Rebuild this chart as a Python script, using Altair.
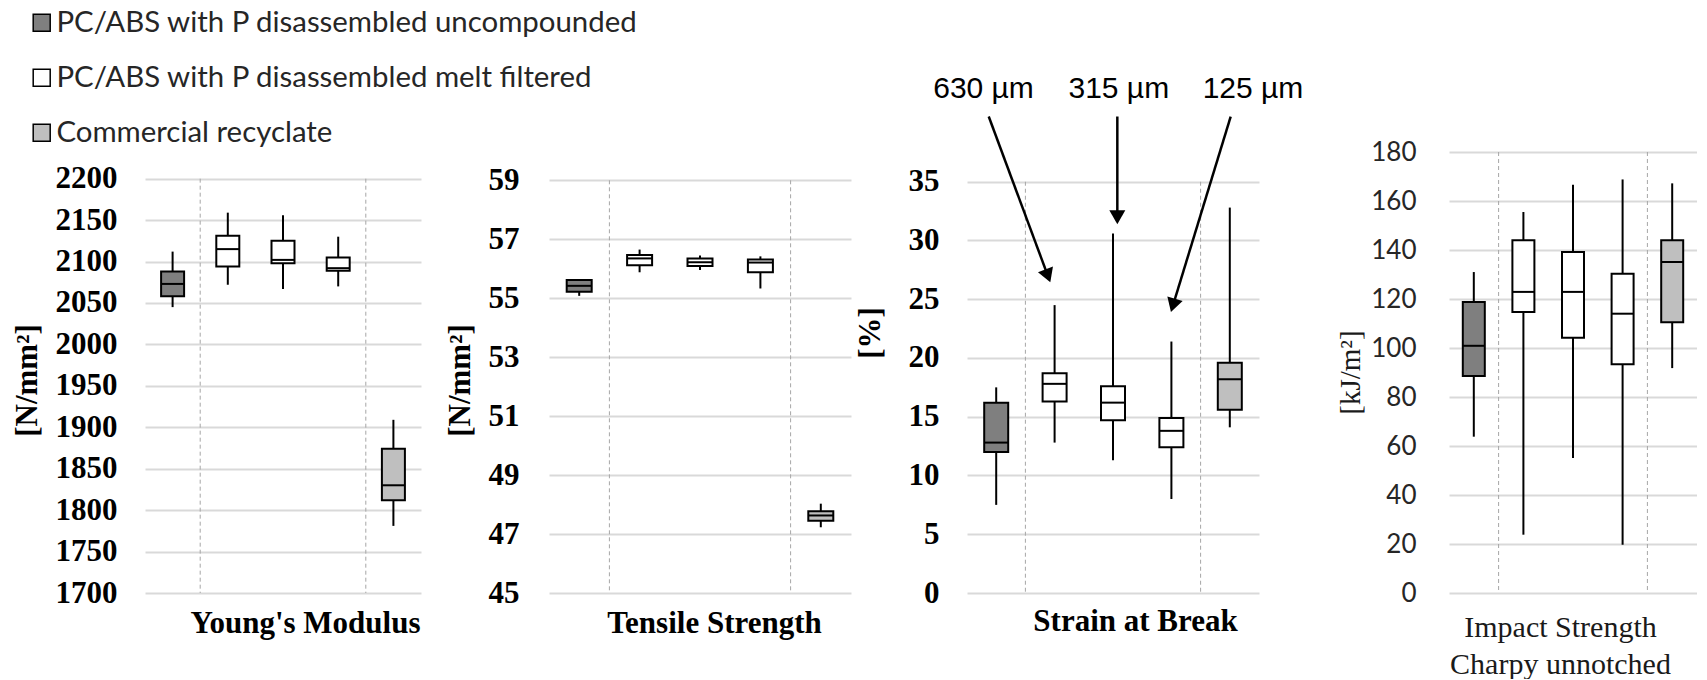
import altair as alt
import pandas as pd

# ---------------- data ----------------
groups = ["PC/ABS with P disassembled uncompounded",
          "PC/ABS with P disassembled melt filtered",
          "Commercial recyclate"]
group_colors = ["#7f7f7f", "#ffffff", "#bfbfbf"]
box_names = ["uncompounded", "630 µm", "315 µm", "125 µm", "recyclate"]
box_groups = [groups[0], groups[1], groups[1], groups[1], groups[2]]

# Young's modulus [N/mm²]
ym_min = [2045, 2072, 2067, 2070, 1781]
ym_q1 = [2058, 2094, 2098, 2089, 1812]
ym_med = [2073, 2115, 2102, 2092, 1830]
ym_q3 = [2088, 2131, 2125, 2105, 1874]
ym_max = [2112, 2159, 2156, 2130, 1909]
ym_ticks = [1700, 1750, 1800, 1850, 1900, 1950, 2000, 2050, 2100, 2150, 2200]

# Tensile strength [N/mm²]
ts_min = [55.08, 55.88, 55.96, 55.33, 47.23]
ts_q1 = [55.22, 56.12, 56.09, 55.88, 47.45]
ts_med = [55.42, 56.35, 56.22, 56.21, 47.63]
ts_q3 = [55.62, 56.47, 56.35, 56.31, 47.77]
ts_max = [55.65, 56.65, 56.45, 56.42, 48.03]
ts_ticks = [45, 47, 49, 51, 53, 55, 57, 59]

# Strain at break [%]
sb_min = [7.5, 12.8, 11.3, 8.0, 14.1]
sb_q1 = [12.0, 16.3, 14.7, 12.4, 15.6]
sb_med = [12.8, 17.8, 16.2, 13.8, 18.2]
sb_q3 = [16.2, 18.7, 17.6, 14.9, 19.6]
sb_max = [17.5, 24.5, 30.6, 21.4, 32.8]
sb_ticks = [0, 5, 10, 15, 20, 25, 30, 35]

# Impact strength Charpy unnotched [kJ/m²]
is_min = [63.8, 23.8, 55.1, 19.7, 91.8]
is_q1 = [88.6, 114.7, 104.2, 93.4, 110.5]
is_med = [100.9, 122.9, 122.9, 114.0, 135.1]
is_q3 = [118.8, 144.0, 139.2, 130.3, 144.0]
is_max = [131.0, 155.5, 166.6, 168.8, 167.2]
is_ticks = [0, 20, 40, 60, 80, 100, 120, 140, 160, 180]

# annotations in the strain panel (x in box-slot units, y in %)
ann_labels = ["630 µm", "315 µm", "125 µm"]
ann_text_x = [0.283, 2.599, 4.897]
ann_text_y = [42.93, 42.93, 42.93]
ann_x0 = [0.372, 2.574, 4.515]
ann_y0 = [40.55, 40.55, 40.55]
ann_x1 = [1.385, 2.574, 3.527]
ann_y1 = [26.99, 31.98, 24.48]
ann_angle = [339.6, 0, 17]

# ---------------- styling ----------------
H = 441
SERIF = "Liberation Serif"

LEGEND = alt.Legend(
    title=None, orient="none", legendX=-118, legendY=-144, direction="vertical",
    symbolType="square", symbolSize=289, symbolStrokeColor="black", symbolStrokeWidth=1.5,
    symbolOpacity=1, labelFont="Lato", labelFontSize=29.4, labelColor="#262626",
    labelOffset=0, rowPadding=24, padding=0, labelLimit=1000,
)


def make_layers(vals, ticks, dom, box_w, yaxis_kw, xaxis_kw):
    mins, q1s, meds, q3s, maxs = vals
    df = pd.DataFrame({"cat": box_names, "group": box_groups, "lo": mins,
                       "q1": q1s, "med": meds, "q3": q3s, "hi": maxs})
    sep = pd.DataFrame({"cat": [box_names[1], box_names[4]],
                        "top": [ticks[-1], ticks[-1]], "bot": [ticks[0], ticks[0]]})
    yscale = alt.Scale(domain=dom, nice=False, zero=False)
    yaxis = alt.Axis(values=ticks, grid=True, gridColor="#d9d9d9", gridWidth=2,
                     domain=False, ticks=False, format="d",
                     titleAngle=270, titleAlign="center", titleBaseline="middle",
                     **yaxis_kw)
    xscale = alt.Scale(paddingInner=0, paddingOuter=0)
    xaxis = alt.Axis(labels=False, ticks=False, domain=False, grid=False,
                     titleAlign="center", titleBaseline="middle", **xaxis_kw)

    def X(**kw):
        return alt.X("cat:N", sort=box_names, scale=xscale, axis=xaxis, **kw)

    def Y(f):
        return alt.Y(f"{f}:Q", scale=yscale, axis=yaxis)

    base = alt.Chart(df)
    seps = alt.Chart(sep).mark_rule(color="#a6a6a6", strokeWidth=1, strokeDash=[4, 3]).encode(
        x=X(bandPosition=0), y=Y("top"), y2="bot")
    lower = base.mark_rule(color="black", strokeWidth=2).encode(x=X(), y=Y("lo"), y2="q1")
    upper = base.mark_rule(color="black", strokeWidth=2).encode(x=X(), y=Y("q3"), y2="hi")
    box = base.mark_bar(size=box_w, stroke="black", strokeWidth=2, opacity=1).encode(
        x=X(), y=Y("q1"), y2="q3",
        fill=alt.Fill("group:N", scale=alt.Scale(domain=groups, range=group_colors), legend=LEGEND))
    med = base.mark_tick(size=box_w, thickness=2, color="black", opacity=1).encode(x=X(), y=Y("med"))
    return [seps, lower, upper, box, med], Y


bold_labels = dict(labelFont=SERIF, labelFontSize=31, labelFontWeight="bold", labelColor="black")
bold_ytitle = dict(titleFont=SERIF, titleFontSize=31, titleFontWeight="bold", titleColor="black")
bold_xtitle = dict(titleFont=SERIF, titleFontSize=31, titleFontWeight="bold", titleColor="black")

# Panel 1: Young's modulus
l1, _ = make_layers((ym_min, ym_q1, ym_med, ym_q3, ym_max), ym_ticks, [1700, 2232.2], 23,
                    dict(title="[N/mm²]", titleX=-118, titleY=228, labelPadding=28, **bold_labels, **bold_ytitle),
                    dict(title="Young's Modulus", titleX=160, titleY=30, **bold_xtitle))
p1 = alt.layer(*l1).properties(width=276, height=H)

# Panel 2: Tensile strength
l2, _ = make_layers((ts_min, ts_q1, ts_med, ts_q3, ts_max), ts_ticks, [45, 59.96], 25,
                    dict(title="[N/mm²]", titleX=-89, titleY=228, labelPadding=30, **bold_labels, **bold_ytitle),
                    dict(title="Tensile Strength", titleX=165, titleY=30, **bold_xtitle))
p2 = alt.layer(*l2).properties(width=302, height=H)

# Panel 3: Strain at break (+ annotations)
l3, Y3 = make_layers((sb_min, sb_q1, sb_med, sb_q3, sb_max), sb_ticks, [0, 37.53], 24,
                     dict(title="[%]", titleX=-97, titleY=180.5, labelPadding=28, **bold_labels, **bold_ytitle),
                     dict(title="Strain at Break", titleX=168, titleY=28, **bold_xtitle))
ann = pd.DataFrame({"lab": ann_labels, "tx": ann_text_x, "ty": ann_text_y,
                    "x0": ann_x0, "y0": ann_y0, "x1": ann_x1, "y1": ann_y1, "ang": ann_angle})
axs = alt.Scale(domain=[0, 5], nice=False, zero=False)
arrows = alt.Chart(ann).mark_rule(color="black", strokeWidth=2.5, clip=False).encode(
    x=alt.X("x0:Q", scale=axs, axis=None), x2="x1",
    y=Y3("y0"), y2="y1")
heads = alt.Chart(ann).mark_point(shape="triangle-down", filled=True, size=256, color="black",
                                  opacity=1, clip=False).encode(
    x=alt.X("x1:Q", scale=axs, axis=None),
    y=Y3("y1"),
    angle=alt.Angle("ang:Q", scale=None))
ann_text = alt.Chart(ann).mark_text(font="Liberation Sans", fontSize=30, color="black", clip=False).encode(
    x=alt.X("tx:Q", scale=axs, axis=None),
    y=Y3("ty"),
    text="lab:N")
p3 = alt.layer(alt.layer(*l3), alt.layer(arrows, heads, ann_text)).resolve_scale(
    x="independent").properties(width=292, height=H)

# Panel 4: Impact strength
l4, _ = make_layers((is_min, is_q1, is_med, is_q3, is_max), is_ticks, [0, 180], 22,
                    dict(title="[kJ/m²]", titleX=-98.5, titleY=220, labelPadding=33,
                         labelFont="Lato", labelFontSize=26, labelColor="#262626",
                         titleFont=SERIF, titleFontSize=29, titleFontWeight="normal", titleColor="#1a1a1a"),
                    dict(title=["Impact Strength", "Charpy unnotched"], titleX=111, titleY=34,
                         titleLineHeight=37, titleFont=SERIF, titleFontSize=30,
                         titleFontWeight="normal", titleColor="#1a1a1a"))
p4 = alt.layer(*l4).properties(width=248, height=H)


def spacer(w):
    return alt.Chart(pd.DataFrame({"s": [0]})).mark_point(opacity=0, size=1).properties(width=w, height=H)


chart = alt.hconcat(p1, spacer(128), p2, spacer(116), p3, spacer(190), p4,
                    spacing=0, bounds="flush").properties(
    padding={"left": 3, "top": 0, "right": 0, "bottom": 0}
).configure_view(strokeWidth=0)

chart.save("out.html", embed_options={"renderer": "svg", "actions": False})
